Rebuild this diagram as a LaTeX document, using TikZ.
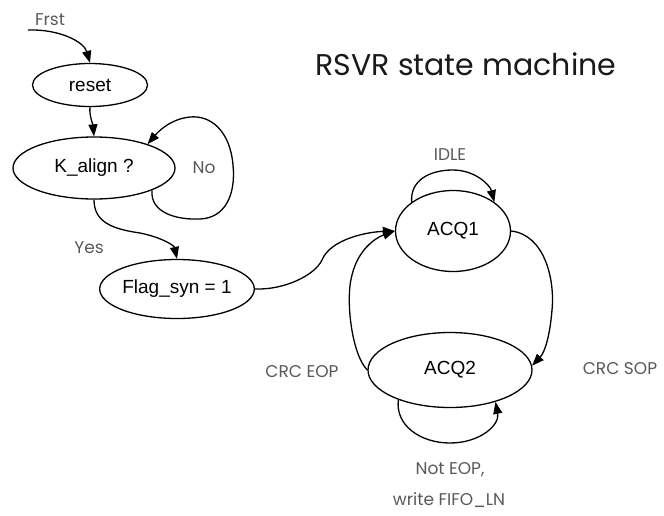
\documentclass[tikz,border=0pt]{standalone}
\usepackage{fontspec}
\setmainfont{Liberation Sans}
\newfontfamily\lblfont{Poppins}
\usetikzlibrary{arrows.meta,shapes.geometric}
\begin{document}
\begin{tikzpicture}[x=1pt,y=-1pt,
  stnode/.style={draw, ellipse, line width=1.3pt, inner sep=0pt, font=\fontsize{19}{22}\selectfont},
  arr/.style={line width=1.3pt, -{Triangle[length=12pt,width=9pt]}},
  lbl/.style={font=\lblfont\fontsize{17}{20}\selectfont, text=black!65}]
\useasboundingbox (0,0) rectangle (664,515);
% states
\node[stnode, minimum width=115pt, minimum height=43pt] (reset) at (90,85) {reset};
\node[stnode, minimum width=162pt, minimum height=62pt] (kalign) at (94,168) {K\_align ?};
\node[stnode, minimum width=142pt, minimum height=59pt] (flag) at (177,289) {Flag\_syn = 1};
\node[stnode, minimum width=115pt, minimum height=81pt] (acq1) at (453,231) {ACQ1};
\node[stnode, minimum width=164pt, minimum height=75pt] (acq2) at (450,370) {ACQ2};
% labels
\node[font=\lblfont\fontsize{30}{34}\selectfont, text=black!90] (title) at (466,64) {RSVR state machine};
\node[lbl] (lfrst) at (50,20) {Frst};
\node[lbl] (lno) at (204,168) {No};
\node[lbl] (lyes) at (89,248) {Yes};
\node[lbl] (lidle) at (450,155) {IDLE};
\node[lbl] (leop) at (302,372) {CRC EOP};
\node[lbl] (lsop) at (620,369) {CRC SOP};
\node[lbl] (lnot) at (450,470) {Not EOP,};
\node[lbl] (lwrite) at (449,500) {write FIFO\_LN};
% connectors
\coordinate (fs) at (28,30);
\draw[arr] (fs) .. controls (60,29) and (84,42) .. (reset.north);
\draw[arr] (reset.south) .. controls (89,115) and (93,125) .. (kalign.north);
\draw[arr] (kalign.-21) .. controls (150,212) and (175,220) .. (200,219)
  .. controls (225,218) and (236,195) .. (233,165)
  .. controls (230,130) and (210,115) .. (190,117)
  .. controls (170,119) and (158,132) .. (kalign.24);
\draw[arr] (kalign.south) .. controls (94,222) and (112,229) .. (140,233)
  .. controls (160,237) and (174,245) .. (flag.north);
\draw[arr] (flag.east) .. controls (285,290) and (315,275) .. (322,260)
  .. controls (330,240) and (365,232) .. (acq1.west);
\draw[arr] (acq2.west) .. controls (352,355) and (345,300) .. (352,275)
  .. controls (358,250) and (375,238) .. (acq1.west);
\draw[arr] (acq1.145) .. controls (410,180) and (430,170) .. (453,170)
  .. controls (475,170) and (490,185) .. (acq1.35);
\draw[arr] (acq1.east) .. controls (545,235) and (555,280) .. (552,310)
  .. controls (550,335) and (545,352) .. (acq2.3);
\draw[arr] (acq2.-150) .. controls (395,425) and (420,443) .. (450,443)
  .. controls (480,443) and (500,425) .. (acq2.-35);
\end{tikzpicture}
\end{document}
